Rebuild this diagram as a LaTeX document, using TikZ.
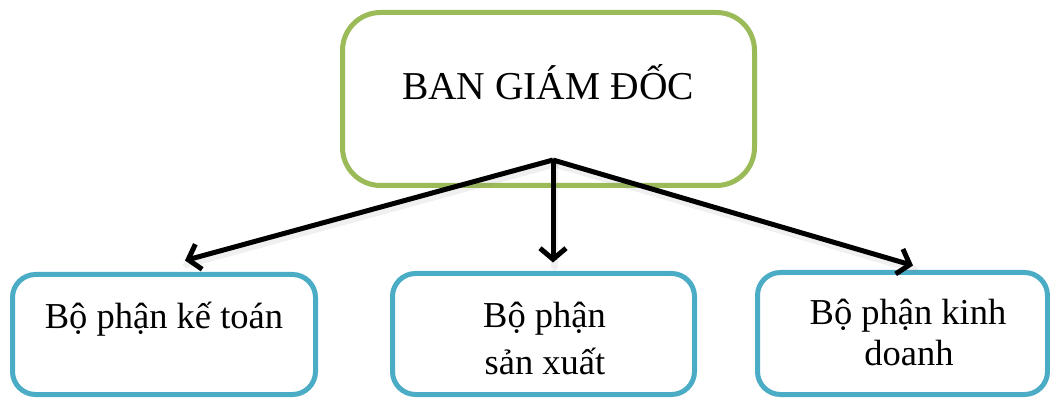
\documentclass[tikz,border=0pt]{standalone}
\usepackage{fontspec}
\setmainfont{Liberation Serif}
\usetikzlibrary{arrows.meta,calc}
\definecolor{headgreen}{HTML}{9BBB59}
\definecolor{unitblue}{HTML}{4BACC6}
\begin{document}
\begin{tikzpicture}[x=1pt,y=-1pt,
  panel/.style={draw, line width=5pt, fill=white, inner sep=0pt, outer sep=0pt, anchor=north west},
  headbox/.style={panel, draw=headgreen, rounded corners=38pt},
  unitbox/.style={panel, draw=unitblue, rounded corners=23pt},
  headtext/.style={anchor=base, inner sep=0pt, font=\fontsize{39.5}{44}\selectfont},
  unittext/.style={anchor=base, inner sep=0pt, font=\fontsize{36.5}{42}\selectfont},
  link/.style={line width=5pt, -{Straight Barb[length=11pt,width=26pt]}},
  linkshade/.style={line width=7pt, gray, opacity=0.12, line cap=round}]
\useasboundingbox (0,0) rectangle (1050,398);

% boxes
\node[headbox, minimum width=412pt, minimum height=173pt] (board) at (342.5,12.5) {};
\node[unitbox, minimum width=303pt, minimum height=120pt] (acct) at (12.5,274.5) {};
\node[unitbox, minimum width=302pt, minimum height=121pt] (prod) at (392.5,273.5) {};
\node[unitbox, minimum width=290pt, minimum height=122pt] (sales) at (757.5,272.5) {};

% labels
\node[headtext] (boardtxt) at ($(board.north)+(-0.5,87.5)$) {BAN GIÁM ĐỐC};
\node[unittext] (accttxt) at ($(acct.north)+(0,53.5)$) {Bộ phận kế toán};
\node[unittext] (prodtxt1) at ($(prod.north)+(1,53.5)$) {Bộ phận};
\node[unittext] (prodtxt2) at ($(prod.north)+(1.5,100.5)$) {sản xuất};
\node[unittext] (salestxt1) at ($(sales.north)+(5.5,51.5)$) {Bộ phận kinh};
\node[unittext] (salestxt2) at ($(sales.north)+(6.5,92.5)$) {doanh};

% connectors fanning out from one point
\coordinate (apex) at ($(board.south)+(4.5,-25.5)$);
\coordinate (tipA) at ($(acct.north)+(21,-14)$);
\coordinate (tipP) at ($(prod.north)+(9.5,-11)$);
\coordinate (tipS) at ($(sales.north)+(10.5,-7)$);

\foreach \t in {tipA,tipP,tipS}
  \draw[linkshade] ($(apex)+(1.5,4)$) -- ($(\t)+(1.5,4)$);
\draw[link] (apex) -- (tipA);
\draw[link] (apex) -- (tipP);
\draw[link] (apex) -- (tipS);
\end{tikzpicture}
\end{document}
